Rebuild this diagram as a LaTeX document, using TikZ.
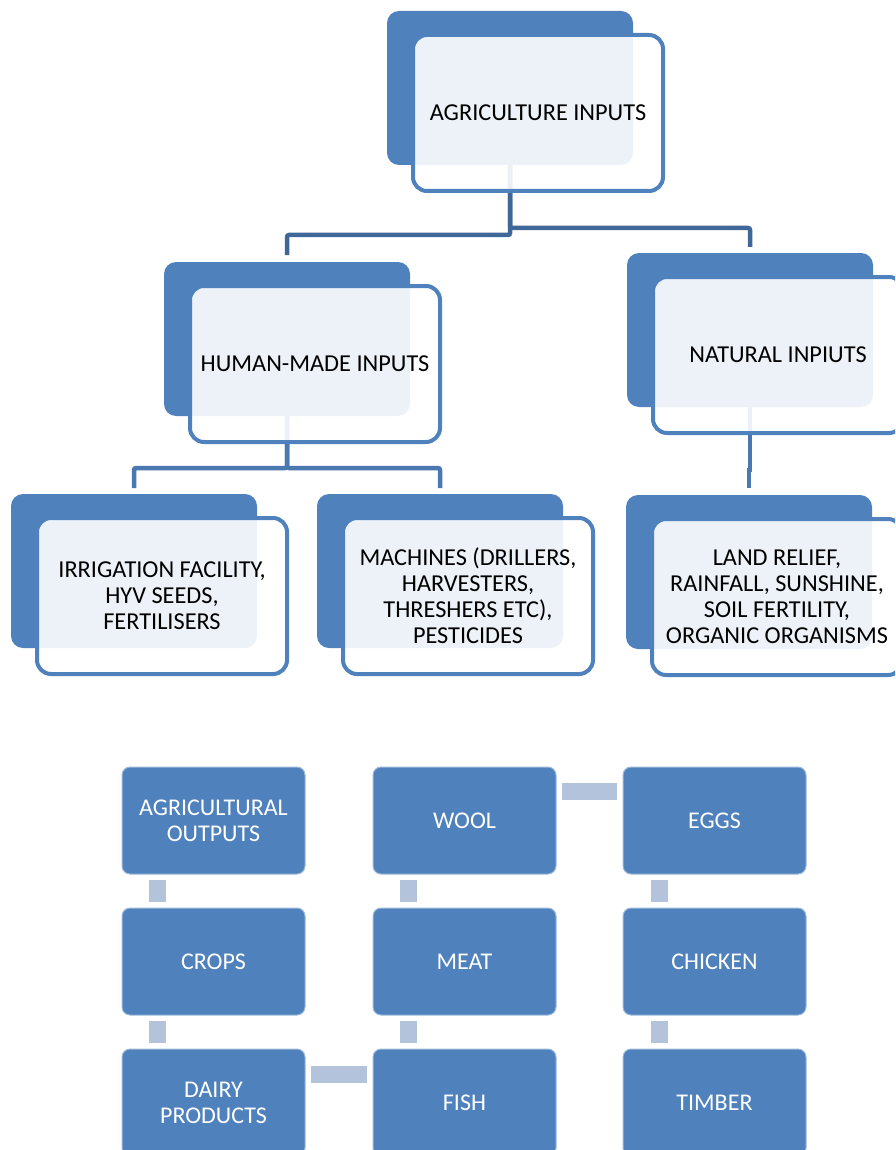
\documentclass[tikz,border=0pt]{standalone}
\usepackage{fontspec}
\setmainfont{Carlito}
\definecolor{accent}{HTML}{4F81BD}
\definecolor{connA}{HTML}{3F6797}
\definecolor{connB}{HTML}{4A78B0}
\definecolor{pale}{HTML}{B3C3DC}
\tikzset{
  backbox/.style={fill=accent, rounded corners=12pt, minimum width=246pt, minimum height=154pt,
    anchor=north west, inner sep=0pt, outer sep=0pt},
  frontbox/.style={draw=accent, line width=4pt, fill=white, fill opacity=0.9, text opacity=1,
    rounded corners=14pt, minimum width=250pt, minimum height=156pt, anchor=north west,
    align=center, text=black, font=\fontsize{24.3}{26}\selectfont, inner sep=0pt, outer sep=0pt},
  conn/.style={line width=4.5pt, draw=connA, rounded corners=2pt},
  conntwo/.style={conn, draw=connB},
  stepbox/.style={fill=accent, draw=accent!55!white, line width=1pt, rounded corners=8pt,
    minimum width=183pt, minimum height=107pt, anchor=north west, align=center, text=white,
    font=\fontsize{24}{26}\selectfont, inner sep=0pt, outer sep=0pt},
  link/.style={fill=pale}
}
\begin{document}
\begin{tikzpicture}[x=1pt,y=-1pt]
\useasboundingbox (0,0) rectangle (895,1150);
\clip (0,0) rectangle (895,1150);
% back boxes
\node[backbox] (b1) at (387,11) {};
\node[backbox] (b2) at (164,262) {};
\node[backbox] (b3) at (627,253) {};
\node[backbox] (b4) at (11,494) {};
\node[backbox] (b5) at (317,494) {};
\node[backbox] (b6) at (626,495) {};
% connectors
\draw[conn] (b1.south) -- ++(0,70) -| ([yshift=7pt]b2.north);
\draw[conn] (b1.south) -- ++(0,63) -| ([yshift=6pt]b3.north);
\draw[conntwo] (b2.south) -- ++(0,52) -| ([yshift=6pt]b4.north);
\draw[conntwo] (b2.south) -- ++(0,52) -| ([yshift=6pt]b5.north);
\draw[conntwo, sharp corners] (b3.south) -- ++(0,63) -| ([yshift=7pt]b6.north);
% front boxes
\node[frontbox] (f1) at (413,35) {AGRICULTURE INPUTS};
\node[frontbox] (f2) at (190,286) {HUMAN-MADE INPUTS};
\node[frontbox] (f3) at (653,277) {NATURAL INPIUTS};
\node[frontbox] (f4) at (37,518) {IRRIGATION FACILITY,\\HYV SEEDS,\\FERTILISERS};
\node[frontbox] (f5) at (343,518) {MACHINES (DRILLERS,\\HARVESTERS,\\THRESHERS ETC),\\PESTICIDES};
\node[frontbox] (f6) at (652,519) {LAND RELIEF,\\RAINFALL, SUNSHINE,\\SOIL FERTILITY,\\ORGANIC ORGANISMS};
% outputs
\node[stepbox] (out) at (122,767) {AGRICULTURAL\\OUTPUTS};
\node[stepbox] (crops) at (122,908) {CROPS};
\node[stepbox] (dairy) at (122,1049) {DAIRY\\PRODUCTS};
\node[stepbox] (fish) at (373,1049) {FISH};
\node[stepbox] (meat) at (373,908) {MEAT};
\node[stepbox] (wool) at (373,767) {WOOL};
\node[stepbox] (eggs) at (623,767) {EGGS};
\node[stepbox] (chicken) at (623,908) {CHICKEN};
\node[stepbox] (timber) at (623,1049) {TIMBER};
% links
\fill[link] ([xshift=27pt,yshift=-6pt]out.south west) rectangle ([xshift=44pt,yshift=6pt]crops.north west);
\fill[link] ([xshift=27pt,yshift=-6pt]crops.south west) rectangle ([xshift=44pt,yshift=6pt]dairy.north west);
\fill[link] ([xshift=6pt,yshift=-17pt]dairy.north east) rectangle ([xshift=-6pt,yshift=-34pt]fish.north west);
\fill[link] ([xshift=27pt,yshift=6pt]fish.north west) rectangle ([xshift=44pt,yshift=-6pt]meat.south west);
\fill[link] ([xshift=27pt,yshift=6pt]meat.north west) rectangle ([xshift=44pt,yshift=-6pt]wool.south west);
\fill[link] ([xshift=6pt,yshift=-16pt]wool.north east) rectangle ([xshift=-6pt,yshift=-33pt]eggs.north west);
\fill[link] ([xshift=28pt,yshift=-6pt]eggs.south west) rectangle ([xshift=45pt,yshift=6pt]chicken.north west);
\fill[link] ([xshift=28pt,yshift=-6pt]chicken.south west) rectangle ([xshift=45pt,yshift=6pt]timber.north west);
\end{tikzpicture}
\end{document}
